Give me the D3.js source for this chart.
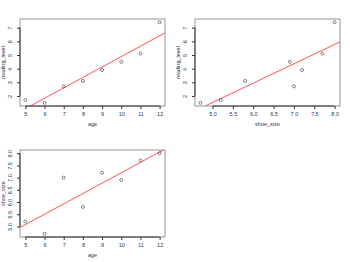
<!DOCTYPE html>
<html><head><meta charset="utf-8">
<script src="https://cdn.jsdelivr.net/npm/d3@7/dist/d3.min.js"></script>
<style>body{margin:0;background:#fff}svg{display:block}text{font-family:"Liberation Sans",Arial,sans-serif}</style>
</head><body>
<script>
const age = [5, 6, 7, 8, 9, 10, 11, 12];
const shoeSize = [5.2, 4.7, 7.0, 5.8, 7.2, 6.9, 7.7, 8.0];
const readingLevel = [1.7, 1.5, 2.7, 3.1, 3.9, 4.5, 5.1, 7.4];
const ageTicks = [5, 6, 7, 8, 9, 10, 11, 12];
const shoeTicks = [5.0, 5.5, 6.0, 6.5, 7.0, 7.5, 8.0];
const readingTicks = [2, 3, 4, 5, 6, 7];

const W = 350, H = 262;
const svg = d3.select("body").append("svg").attr("width", W).attr("height", H);
const textCol = "#2a3550";

const panels = [
  {ox: 0, oy: 0, x: age, y: readingLevel, xt: ageTicks, yt: readingTicks, xl: "age", yl: "reading_level", xf: d3.format("d"), yf: d3.format("d")},
  {ox: 175, oy: 0, x: shoeSize, y: readingLevel, xt: shoeTicks, yt: readingTicks, xl: "shoe_size", yl: "reading_level", xf: d3.format(".1f"), yf: d3.format("d")},
  {ox: 0, oy: 131, x: age, y: shoeSize, xt: ageTicks, yt: shoeTicks, xl: "age", yl: "shoe_size", xf: d3.format("d"), yf: d3.format(".1f")}
];

function ext(v) { const [a, b] = d3.extent(v); const e = (b - a) * 0.04; return [a - e, b + e]; }
function fit(x, y) {
  const mx = d3.mean(x), my = d3.mean(y);
  let sxy = 0, sxx = 0;
  x.forEach((xi, i) => { sxy += (xi - mx) * (y[i] - my); sxx += (xi - mx) ** 2; });
  const b = sxy / sxx; return {a: my - b * mx, b};
}

panels.forEach((p, k) => {
  const L = 20, R = 165, T = 19, B = 106;
  const g = svg.append("g").attr("transform", `translate(${p.ox},${p.oy})`);
  const xs = d3.scaleLinear().domain(ext(p.x)).range([L, R]);
  const ys = d3.scaleLinear().domain(ext(p.y)).range([B, T]);
  g.append("clipPath").attr("id", "c" + k).append("rect").attr("x", L).attr("y", T).attr("width", R - L).attr("height", B - T);
  const f = fit(p.x, p.y);
  const [d0, d1] = xs.domain();
  g.append("line").attr("clip-path", `url(#c${k})`)
    .attr("x1", xs(d0)).attr("y1", ys(f.a + f.b * d0))
    .attr("x2", xs(d1)).attr("y2", ys(f.a + f.b * d1))
    .attr("stroke", "#ff4040").attr("stroke-width", 0.9);
  g.append("rect").attr("x", L).attr("y", T).attr("width", R - L).attr("height", B - T)
    .attr("fill", "none").attr("stroke", "#8a8a8a").attr("stroke-width", 0.9);
  g.selectAll("circle").data(p.x).enter().append("circle")
    .attr("cx", (d) => xs(d)).attr("cy", (d, i) => ys(p.y[i])).attr("r", 1.5)
    .attr("fill", "none").attr("stroke", "#333").attr("stroke-width", 0.6);
  const xa = g.append("g").attr("transform", `translate(0,${B})`)
    .call(d3.axisBottom(xs).tickValues(p.xt).tickFormat(p.xf).tickSize(3).tickPadding(3).tickSizeOuter(0));
  xa.select(".domain").attr("d", `M${xs(p.xt[0])},0H${xs(p.xt[p.xt.length - 1])}`).attr("stroke", "#333");
  xa.selectAll("line").attr("stroke", "#333");
  xa.selectAll("text").attr("font-size", 5.5).attr("fill", textCol);
  const ya = g.append("g").attr("transform", `translate(${L},0)`)
    .call(d3.axisLeft(ys).tickValues(p.yt).tickFormat(p.yf).tickSize(3).tickPadding(3).tickSizeOuter(0));
  ya.select(".domain").attr("d", `M0,${ys(p.yt[0])}V${ys(p.yt[p.yt.length - 1])}`).attr("stroke", "#333");
  ya.selectAll("line").attr("stroke", "#333");
  ya.selectAll("text").attr("font-size", 5.5).attr("fill", textCol)
    .attr("text-anchor", "middle").attr("x", 0).attr("y", 0).attr("dy", 0)
    .attr("transform", "translate(-8,0) rotate(-90)");
  g.append("text").attr("x", (L + R) / 2).attr("y", 125.5).attr("text-anchor", "middle")
    .attr("font-size", 5.5).attr("fill", textCol).text(p.xl);
  g.append("text").attr("transform", `translate(5,${(T + B) / 2}) rotate(-90)`).attr("text-anchor", "middle")
    .attr("font-size", 5.5).attr("fill", textCol).text(p.yl);
});
</script>
</body></html>
